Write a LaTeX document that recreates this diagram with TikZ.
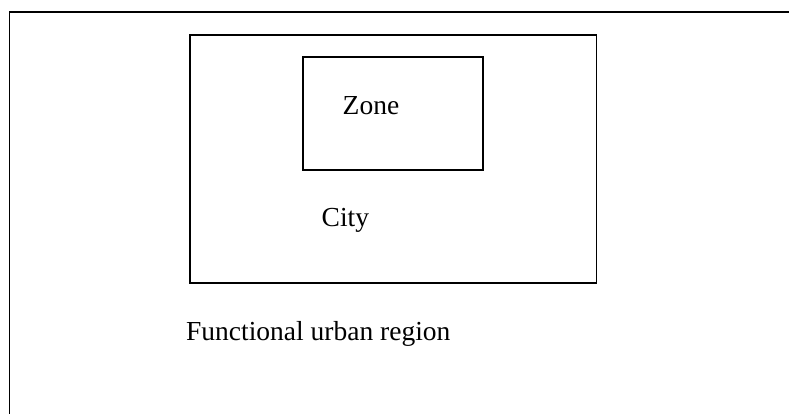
\documentclass[tikz,border=0pt]{standalone}
\usepackage{fontspec}
\setmainfont{Liberation Serif}
\begin{document}
\begin{tikzpicture}[x=1pt,y=-1pt,
  frame/.style={draw=black,line width=1.8pt},
  lbl/.style={font=\fontsize{27.5}{30}\selectfont,inner sep=0pt,anchor=base west}]
\useasboundingbox (0,0) rectangle (789,414);
\clip (0,0) rectangle (789,414);
\fill[white] (0,0) rectangle (789,414);
\draw[frame] (9.5,12.3) rectangle (820,450);
\draw[frame] (190,35) rectangle (596.5,283.3);
\draw[frame] (302.7,57.3) rectangle (483.3,170);
\node[lbl] (zone) at (342.5,115) {Zone};
\node[lbl] (city) at (321.5,226.7) {City};
\node[lbl] (fur) at (186,340.7) {Functional urban region};
\end{tikzpicture}
\end{document}
